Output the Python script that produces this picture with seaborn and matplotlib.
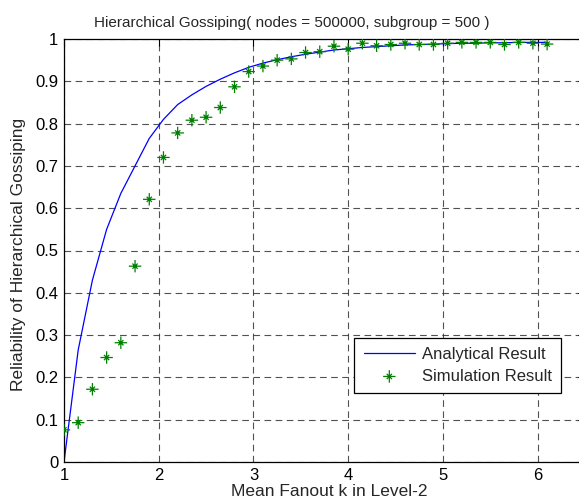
import numpy as np
import pandas as pd
import matplotlib
matplotlib.use("Agg")
import matplotlib.pyplot as plt
from matplotlib.path import Path
import seaborn as sns

fanout = [1.00, 1.15, 1.30, 1.45, 1.60, 1.75, 1.90, 2.05, 2.20, 2.35, 2.50, 2.65,
          2.80, 2.95, 3.10, 3.25, 3.40, 3.55, 3.70, 3.85, 4.00, 4.15, 4.30, 4.45,
          4.60, 4.75, 4.90, 5.05, 5.20, 5.35, 5.50, 5.65, 5.80, 5.95, 6.10]
analytical = [0.0, 0.265, 0.43, 0.55, 0.635, 0.70, 0.765, 0.81, 0.845, 0.868, 0.888, 0.905,
              0.92, 0.933, 0.943, 0.951, 0.958, 0.964, 0.969, 0.974, 0.977, 0.980, 0.982, 0.984,
              0.986, 0.987, 0.988, 0.989, 0.990, 0.990, 0.991, 0.991, 0.992, 0.992, 0.992]
simulation = [0.076, 0.093, 0.172, 0.247, 0.282, 0.463, 0.621, 0.720, 0.778, 0.808, 0.815, 0.838,
              0.887, 0.923, 0.936, 0.950, 0.953, 0.968, 0.970, 0.983, 0.976, 0.990, 0.984, 0.987,
              0.990, 0.987, 0.987, 0.990, 0.992, 0.992, 0.992, 0.987, 0.992, 0.990, 0.988]
xticks = [1, 2, 3, 4, 5, 6]
yticks = [0, 0.1, 0.2, 0.3, 0.4, 0.5, 0.6, 0.7, 0.8, 0.9, 1]
ytick_labels = ["0", "0.1", "0.2", "0.3", "0.4", "0.5", "0.6", "0.7", "0.8", "0.9", "1"]

df = pd.DataFrame({"k": fanout, "analytical": analytical, "simulation": simulation})

# MATLAB-like asterisk: long plus arms, shorter diagonal arms
d = 0.42
star = Path(
    [(-1, 0), (1, 0), (0, -1), (0, 1), (-d, -d), (d, d), (-d, d), (d, -d)],
    [Path.MOVETO, Path.LINETO] * 4,
)

sns.set_style("white")
plt.rcParams["font.family"] = ["Liberation Sans", "DejaVu Sans"]
plt.rcParams["font.size"] = 12

fig = plt.figure(figsize=(5.79, 5.04), dpi=100)
ax = fig.add_axes([64 / 579, 1 - 462 / 504, 521 / 579, 423 / 504])

sns.lineplot(data=df, x="k", y="analytical", ax=ax, color="#0000ff", linewidth=0.9,
             label="Analytical Result")
sns.scatterplot(data=df, x="k", y="simulation", ax=ax, marker=star, s=80,
                facecolor="none", edgecolor="#008000", linewidth=0.9,
                label="Simulation Result", zorder=3)

ax.set_xlim(1, 6.5)
ax.set_ylim(0, 1)
ax.set_xticks(xticks)
ax.set_xticklabels([str(t) for t in xticks])
ax.set_yticks(yticks)
ax.set_yticklabels(ytick_labels)
ax.tick_params(direction="in", length=5, width=0.8, top=True, right=True,
               labelsize=12, colors="black", pad=4)
ax.tick_params(axis="x", pad=4.5)
ax.grid(True, linestyle=(0, (6, 4)), color="#333333", linewidth=0.8, alpha=0.85)
for s in ax.spines.values():
    s.set_color("black")
    s.set_linewidth(0.9)

ax.set_title("Hierarchical Gossiping( nodes = 500000, subgroup = 500 )", fontsize=11,
             x=(291.5 - 64) / 521, pad=9)
ax.set_xlabel("Mean Fanout k in Level-2", fontsize=12.5)
ax.xaxis.set_label_coords((329 - 64) / 521, -0.053)
ax.set_ylabel("Reliability of Hierarchical Gossiping", fontsize=12.5)
ax.yaxis.set_label_coords(-0.072, 0.49)

leg = ax.legend(loc="lower right", bbox_to_anchor=(561 / 579, 1 - 393 / 504),
                bbox_transform=fig.transFigure, frameon=True, fancybox=False,
                fontsize=12, borderaxespad=0, handlelength=3.1, handletextpad=0.4,
                borderpad=0.55, labelspacing=0.4)
leg.get_frame().set_edgecolor("black")
leg.get_frame().set_linewidth(0.9)
leg.get_frame().set_alpha(1)

fig.savefig("out.png", dpi=100)
